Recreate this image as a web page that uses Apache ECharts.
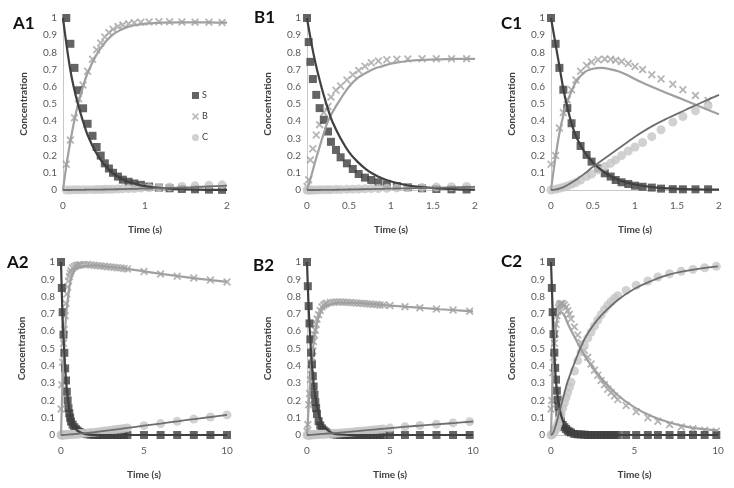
<!DOCTYPE html>
<html>
<head>
<meta charset="utf-8">
<script src="https://cdn.jsdelivr.net/npm/echarts@6/dist/echarts.min.js"></script>
<style>
html,body{margin:0;padding:0;background:#fff;}
#chart{width:734px;height:488px;}
</style>
</head>
<body>
<div id="chart"></div>
<script>
// ---------- DATA ----------
// A1 (0-2 s)
const tA1 = [0.04,0.09,0.14,0.19,0.245,0.3,0.36,0.41,0.46,0.51,0.56,0.61,0.67,0.73,0.8,0.87,0.95,1.05,1.17,1.3,1.45,1.61,1.78,1.94];
const sA1 = [1,0.85,0.71,0.58,0.475,0.385,0.315,0.25,0.2,0.155,0.125,0.1,0.078,0.06,0.048,0.038,0.03,0.02,0.014,0.01,0.006,0.004,0.002,0.001];
const bA1 = [0.15,0.29,0.42,0.53,0.61,0.69,0.76,0.815,0.855,0.89,0.915,0.935,0.95,0.96,0.967,0.972,0.975,0.977,0.978,0.978,0.977,0.976,0.975,0.974];
const cA1 = [0,0,0.001,0.001,0.001,0.002,0.002,0.003,0.003,0.004,0.004,0.005,0.006,0.007,0.008,0.009,0.011,0.013,0.015,0.018,0.021,0.024,0.027,0.03];
const ltA1 = [0,0.05,0.1,0.15,0.2,0.25,0.3,0.4,0.5,0.6,0.7,0.8,0.9,1,1.2,1.4,1.6,1.8,2];
const lsA1 = [1,0.82,0.67,0.56,0.47,0.39,0.32,0.22,0.15,0.1,0.07,0.048,0.033,0.023,0.011,0.005,0.003,0.001,0.001];
const lbA1 = [0,0.17,0.31,0.43,0.53,0.61,0.68,0.78,0.85,0.9,0.93,0.95,0.96,0.967,0.973,0.975,0.975,0.974,0.973];
const lcA1 = [0,0,0,0.001,0.001,0.001,0.002,0.002,0.003,0.004,0.005,0.006,0.007,0.008,0.011,0.014,0.017,0.021,0.025];

// B1 (0-2 s)
const tB1 = [0,0.02,0.04,0.07,0.11,0.15,0.2,0.25,0.285,0.345,0.4,0.475,0.545,0.615,0.69,0.765,0.85,0.95,1.07,1.2,1.37,1.54,1.72,1.9];
const sB1 = [1,0.86,0.745,0.645,0.553,0.476,0.408,0.34,0.28,0.233,0.19,0.155,0.122,0.093,0.072,0.058,0.045,0.033,0.023,0.016,0.01,0.006,0.004,0.003];
const bB1 = [0.02,0.06,0.175,0.24,0.32,0.38,0.45,0.485,0.54,0.58,0.605,0.64,0.67,0.695,0.72,0.74,0.75,0.757,0.76,0.762,0.763,0.763,0.763,0.763];
const cB1 = [0,0,0,0,0,0.001,0.001,0.002,0.002,0.003,0.003,0.004,0.005,0.006,0.007,0.008,0.009,0.01,0.012,0.013,0.015,0.017,0.019,0.021];
const ltB1 = [0,0.05,0.1,0.15,0.2,0.25,0.3,0.4,0.5,0.6,0.7,0.8,0.9,1,1.2,1.4,1.6,1.8,2];
const lsB1 = [1,0.86,0.74,0.64,0.55,0.47,0.4,0.3,0.22,0.165,0.122,0.09,0.067,0.05,0.027,0.015,0.008,0.004,0.002];
const lbB1 = [0,0.08,0.17,0.25,0.33,0.4,0.45,0.53,0.6,0.65,0.68,0.705,0.72,0.735,0.75,0.757,0.76,0.762,0.762];
const lcB1 = [0,0,0,0,0.001,0.001,0.001,0.002,0.003,0.004,0.005,0.006,0.007,0.008,0.01,0.012,0.014,0.016,0.018];

// C1 (0-2 s)
const tC1 = [0,0.055,0.1,0.147,0.194,0.245,0.297,0.352,0.424,0.483,0.56,0.64,0.71,0.77,0.84,0.92,1.0,1.09,1.2,1.31,1.45,1.57,1.72,1.87];
const sC1 = [1,0.85,0.71,0.583,0.476,0.388,0.32,0.256,0.204,0.165,0.126,0.097,0.078,0.058,0.045,0.035,0.025,0.019,0.014,0.008,0.005,0.004,0.004,0.004];
const bC1 = [0.15,0.2,0.36,0.45,0.525,0.583,0.64,0.69,0.724,0.744,0.757,0.761,0.76,0.755,0.747,0.735,0.718,0.7,0.67,0.645,0.615,0.583,0.55,0.52];
const cC1 = [0,0.004,0.01,0.016,0.023,0.033,0.043,0.058,0.078,0.093,0.117,0.136,0.155,0.175,0.2,0.227,0.25,0.276,0.31,0.35,0.395,0.427,0.46,0.49];
const ltC1 = [0,0.05,0.1,0.15,0.2,0.25,0.3,0.4,0.5,0.6,0.7,0.8,0.9,1,1.2,1.4,1.6,1.8,2];
const lsC1 = [1,0.86,0.72,0.58,0.47,0.38,0.31,0.22,0.16,0.115,0.083,0.06,0.044,0.032,0.017,0.009,0.005,0.003,0.002];
const lbC1 = [0,0.18,0.33,0.44,0.52,0.58,0.63,0.685,0.705,0.71,0.703,0.69,0.67,0.645,0.6,0.56,0.52,0.48,0.44];
const lcC1 = [0,0.002,0.008,0.017,0.03,0.045,0.06,0.095,0.135,0.17,0.205,0.24,0.275,0.31,0.37,0.42,0.465,0.51,0.553];

// A2 (0-10 s)
const tA2 = [0,0.05,0.1,0.15,0.2,0.25,0.3,0.35,0.4,0.45,0.5,0.55,0.6,0.7,0.8,0.9,1.0,1.1,1.2,1.4,1.6,1.8,2.0,2.2,2.4,2.6,2.8,3.0,3.2,3.4,3.6,3.8,4.0,5,6,7,8,9,10];
const sA2 = [1,0.85,0.71,0.58,0.475,0.385,0.315,0.25,0.2,0.155,0.125,0.1,0.078,0.06,0.045,0.034,0.025,0.018,0.013,0.007,0.004,0.002,0.001,0,0,0,0,0,0,0,0,0,0,0,0,0,0,0,0];
const bA2 = [0.15,0.29,0.42,0.53,0.61,0.69,0.76,0.815,0.855,0.89,0.915,0.935,0.95,0.965,0.973,0.978,0.981,0.983,0.984,0.985,0.985,0.983,0.981,0.979,0.977,0.975,0.973,0.971,0.969,0.967,0.965,0.963,0.96,0.945,0.93,0.918,0.907,0.896,0.885];
const cA2 = [0,0,0,0,0.001,0.001,0.001,0.002,0.002,0.002,0.003,0.003,0.003,0.004,0.005,0.005,0.006,0.007,0.008,0.01,0.012,0.014,0.016,0.018,0.02,0.023,0.025,0.028,0.03,0.033,0.035,0.038,0.041,0.054,0.066,0.079,0.092,0.104,0.116];
const ltA2 = [0,0.05,0.1,0.15,0.2,0.3,0.4,0.5,0.6,0.8,1,1.5,2,3,4,5,6,7,8,9,10];
const lsA2 = [1,0.82,0.67,0.56,0.47,0.32,0.22,0.15,0.1,0.048,0.023,0.005,0.001,0,0,0,0,0,0,0,0];
const lbA2 = [0,0.17,0.31,0.43,0.53,0.68,0.78,0.85,0.9,0.95,0.967,0.978,0.98,0.971,0.96,0.946,0.932,0.919,0.907,0.896,0.885];
const lcA2 = [0,0,0,0,0.001,0.001,0.002,0.003,0.004,0.005,0.007,0.011,0.016,0.028,0.041,0.054,0.066,0.079,0.092,0.104,0.116];

// B2 (0-10 s)
const tB2 = [0,0.05,0.1,0.15,0.2,0.25,0.3,0.35,0.4,0.45,0.5,0.55,0.6,0.7,0.8,0.9,1.0,1.1,1.2,1.4,1.6,1.8,2.0,2.2,2.4,2.6,2.8,3.0,3.2,3.4,3.6,3.8,4.0,4.2,4.4,4.6,5.0,5.9,6.8,7.8,8.8,9.8];
const sB2 = [1,0.86,0.745,0.645,0.553,0.476,0.408,0.34,0.28,0.233,0.19,0.155,0.122,0.08,0.055,0.038,0.027,0.019,0.013,0.007,0.004,0.002,0.001,0,0,0,0,0,0,0,0,0,0,0,0,0,0,0,0,0,0,0];
const bB2 = [0.02,0.06,0.175,0.24,0.32,0.38,0.45,0.485,0.54,0.58,0.605,0.64,0.67,0.695,0.72,0.74,0.75,0.757,0.762,0.766,0.768,0.769,0.769,0.768,0.767,0.766,0.764,0.763,0.761,0.76,0.758,0.757,0.755,0.754,0.752,0.751,0.748,0.742,0.735,0.728,0.722,0.716];
const cB2 = [0,0,0,0,0,0.001,0.001,0.001,0.002,0.002,0.002,0.003,0.003,0.003,0.004,0.004,0.005,0.005,0.006,0.007,0.008,0.01,0.011,0.013,0.014,0.016,0.018,0.02,0.021,0.023,0.025,0.027,0.029,0.031,0.033,0.035,0.04,0.047,0.055,0.062,0.07,0.077];
const ltB2 = [0,0.05,0.1,0.15,0.2,0.3,0.4,0.5,0.6,0.8,1,1.5,2,3,4,5,6,7,8,9,10];
const lsB2 = [1,0.86,0.74,0.64,0.55,0.4,0.3,0.22,0.165,0.09,0.05,0.012,0.003,0,0,0,0,0,0,0,0];
const lbB2 = [0,0.08,0.17,0.25,0.33,0.45,0.53,0.6,0.65,0.705,0.735,0.758,0.765,0.763,0.756,0.748,0.741,0.734,0.727,0.721,0.715];
const lcB2 = [0,0,0,0,0.001,0.001,0.002,0.003,0.004,0.005,0.007,0.01,0.014,0.022,0.031,0.04,0.048,0.056,0.063,0.07,0.078];

// C2 (0-10 s)
const tC2 = [0,0.05,0.1,0.15,0.2,0.25,0.3,0.35,0.4,0.45,0.5,0.55,0.6,0.7,0.8,0.9,1.0,1.1,1.2,1.4,1.6,1.8,2.0,2.2,2.4,2.6,2.8,3.0,3.2,3.4,3.6,3.8,4.0,4.5,5.1,5.8,6.4,7.1,7.8,8.5,9.2,9.9];
const sC2 = [1,0.85,0.71,0.583,0.476,0.388,0.32,0.256,0.204,0.165,0.126,0.1,0.08,0.058,0.045,0.035,0.025,0.019,0.014,0.006,0.004,0.003,0.002,0,0,0,0,0,0,0,0,0,0,0,0,0,0,0,0,0,0,0];
const bC2 = [0.15,0.2,0.36,0.45,0.53,0.585,0.64,0.69,0.715,0.735,0.748,0.756,0.76,0.76,0.752,0.738,0.718,0.698,0.67,0.625,0.578,0.535,0.49,0.45,0.41,0.375,0.345,0.315,0.29,0.265,0.245,0.225,0.205,0.17,0.135,0.1,0.08,0.06,0.046,0.036,0.028,0.022];
const cC2 = [0,0.002,0.006,0.012,0.02,0.028,0.037,0.047,0.06,0.072,0.085,0.1,0.125,0.155,0.185,0.215,0.245,0.275,0.305,0.37,0.43,0.48,0.52,0.56,0.595,0.63,0.665,0.695,0.725,0.75,0.77,0.79,0.805,0.835,0.865,0.89,0.913,0.932,0.946,0.957,0.967,0.975];
const ltC2 = [0,0.05,0.1,0.15,0.2,0.3,0.4,0.5,0.6,0.8,1,1.5,2,2.5,3,4,5,6,7,8,9,10];
const lsC2 = [1,0.86,0.72,0.58,0.47,0.31,0.22,0.16,0.115,0.06,0.032,0.007,0.002,0,0,0,0,0,0,0,0,0];
const lbC2 = [0,0.18,0.33,0.44,0.52,0.63,0.685,0.705,0.71,0.69,0.645,0.55,0.46,0.39,0.33,0.23,0.16,0.11,0.075,0.05,0.035,0.025];
const lcC2 = [0,0.002,0.008,0.017,0.03,0.06,0.095,0.135,0.17,0.24,0.31,0.44,0.553,0.63,0.69,0.78,0.845,0.89,0.925,0.947,0.963,0.975];

const seriesNames = ['S','B','C'];
const panelLabels = ['A1','B1','C1','A2','B2','C2'];
const xMaxes = [2,2,2,10,10,10];
const xIntervals = [1,0.5,0.5,5,5,5];
const yTicks = [0,0.1,0.2,0.3,0.4,0.5,0.6,0.7,0.8,0.9,1];

// ---------- LAYOUT / STYLE ----------
const panels = [
  {t:tA1,s:sA1,b:bA1,c:cA1,lt:ltA1,ls:lsA1,lb:lbA1,lc:lcA1},
  {t:tB1,s:sB1,b:bB1,c:cB1,lt:ltB1,ls:lsB1,lb:lbB1,lc:lcB1},
  {t:tC1,s:sC1,b:bC1,c:cC1,lt:ltC1,ls:lsC1,lb:lbC1,lc:lcC1},
  {t:tA2,s:sA2,b:bA2,c:cA2,lt:ltA2,ls:lsA2,lb:lbA2,lc:lcA2},
  {t:tB2,s:sB2,b:bB2,c:cB2,lt:ltB2,ls:lsB2,lb:lbB2,lc:lcB2},
  {t:tC2,s:sC2,b:bC2,c:cC2,lt:ltC2,ls:lsC2,lb:lbC2,lc:lcC2}
];
const grids = [
  {left:63, top:18, width:164, height:172},
  {left:307, top:18, width:168, height:172},
  {left:551, top:18, width:168, height:172},
  {left:61, top:262, width:166, height:173},
  {left:307, top:262, width:166, height:173},
  {left:551, top:262, width:167, height:173}
];
const labelPos = [[24,24],[265,18],[512,24],[18,263],[264,266],[512,262]];

const FONT = 'Lato, "Open Sans", sans-serif';
const X_PATH = 'path://M0,1.6L1.6,0L5,3.4L8.4,0L10,1.6L6.6,5L10,8.4L8.4,10L5,6.6L1.6,10L0,8.4L3.4,5Z';
const colS = '#3d3d3d', colB = '#a3a3a3', colC = '#c6c6c6';
const lineS = '#404040', lineB = '#a0a0a0', lineC = '#6e6e6e';

function zip(t, v){ return t.map((x,i)=>[x, v[i]]); }

const xAxes = [], yAxes = [], series = [], graphics = [];
grids.forEach((g, i) => {
  xAxes.push({
    type:'value', gridIndex:i, min:0, max:xMaxes[i], interval:xIntervals[i],
    name:'Time (s)', nameLocation:'middle', nameGap:35,
    nameTextStyle:{fontFamily:FONT, fontWeight:'bold', fontSize:10, color:'#404040'},
    axisLine:{show:true, lineStyle:{color:'#c8c8c8', width:1}},
    axisTick:{show:false}, splitLine:{show:false},
    axisLabel:{fontFamily:FONT, fontSize:10, color:'#595959', margin:11}
  });
  yAxes.push({
    type:'value', gridIndex:i, min:yTicks[0], max:yTicks[yTicks.length-1], interval:0.1,
    name:'Concentration', nameLocation:'middle', nameGap:34, nameRotate:90,
    nameTextStyle:{fontFamily:FONT, fontWeight:'bold', fontSize:10, color:'#404040'},
    axisLine:{show:true, lineStyle:{color:'#c8c8c8', width:1}},
    axisTick:{show:false}, splitLine:{show:false},
    axisLabel:{fontFamily:FONT, fontSize:10, color:'#595959', margin:6,
      formatter: v => String(Math.round(v*10)/10)}
  });
  const p = panels[i];
  series.push(
    {name:'B', type:'scatter', xAxisIndex:i, yAxisIndex:i, data:zip(p.t,p.b), symbol:X_PATH, symbolSize:8, itemStyle:{color:colB}, z:2, silent:true},
    {name:'S', type:'scatter', xAxisIndex:i, yAxisIndex:i, data:zip(p.t,p.s), symbol:'rect', symbolSize:8, itemStyle:{color:colS}, z:2, silent:true},
    {name:'C', type:'scatter', xAxisIndex:i, yAxisIndex:i, data:zip(p.t,p.c), symbol:'circle', symbolSize:9, itemStyle:{color:colC}, z:2, silent:true},
    {name:'B model', type:'line', xAxisIndex:i, yAxisIndex:i, data:zip(p.lt,p.lb), showSymbol:false, smooth:0.4, lineStyle:{color:lineB, width:2.2}, z:3, silent:true},
    {name:'S model', type:'line', xAxisIndex:i, yAxisIndex:i, data:zip(p.lt,p.ls), showSymbol:false, smooth:0.4, lineStyle:{color:lineS, width:2.2}, z:3, silent:true},
    {name:'C model', type:'line', xAxisIndex:i, yAxisIndex:i, data:zip(p.lt,p.lc), showSymbol:false, smooth:0.4, lineStyle:{color:lineC, width:1.8}, z:3, silent:true}
  );
  graphics.push({type:'text', left:labelPos[i][0]-11, top:labelPos[i][1]-9,
    style:{text:panelLabels[i], font:'bold 17px '+FONT, fill:'#111'}});
});

const chart = echarts.init(document.getElementById('chart'), null, {renderer:'canvas'});
chart.setOption({
  animation:false,
  backgroundColor:'#ffffff',
  grid: grids.map(g => Object.assign({containLabel:false}, g)),
  xAxis: xAxes,
  yAxis: yAxes,
  legend: {
    data: seriesNames, orient:'vertical', left:187, top:86, itemGap:12,
    itemWidth:7, itemHeight:7, selectedMode:false,
    textStyle:{fontFamily:FONT, fontSize:9, color:'#404040', padding:[0,0,0,-2]}
  },
  graphic: graphics,
  series: series
});
</script>
</body>
</html>
